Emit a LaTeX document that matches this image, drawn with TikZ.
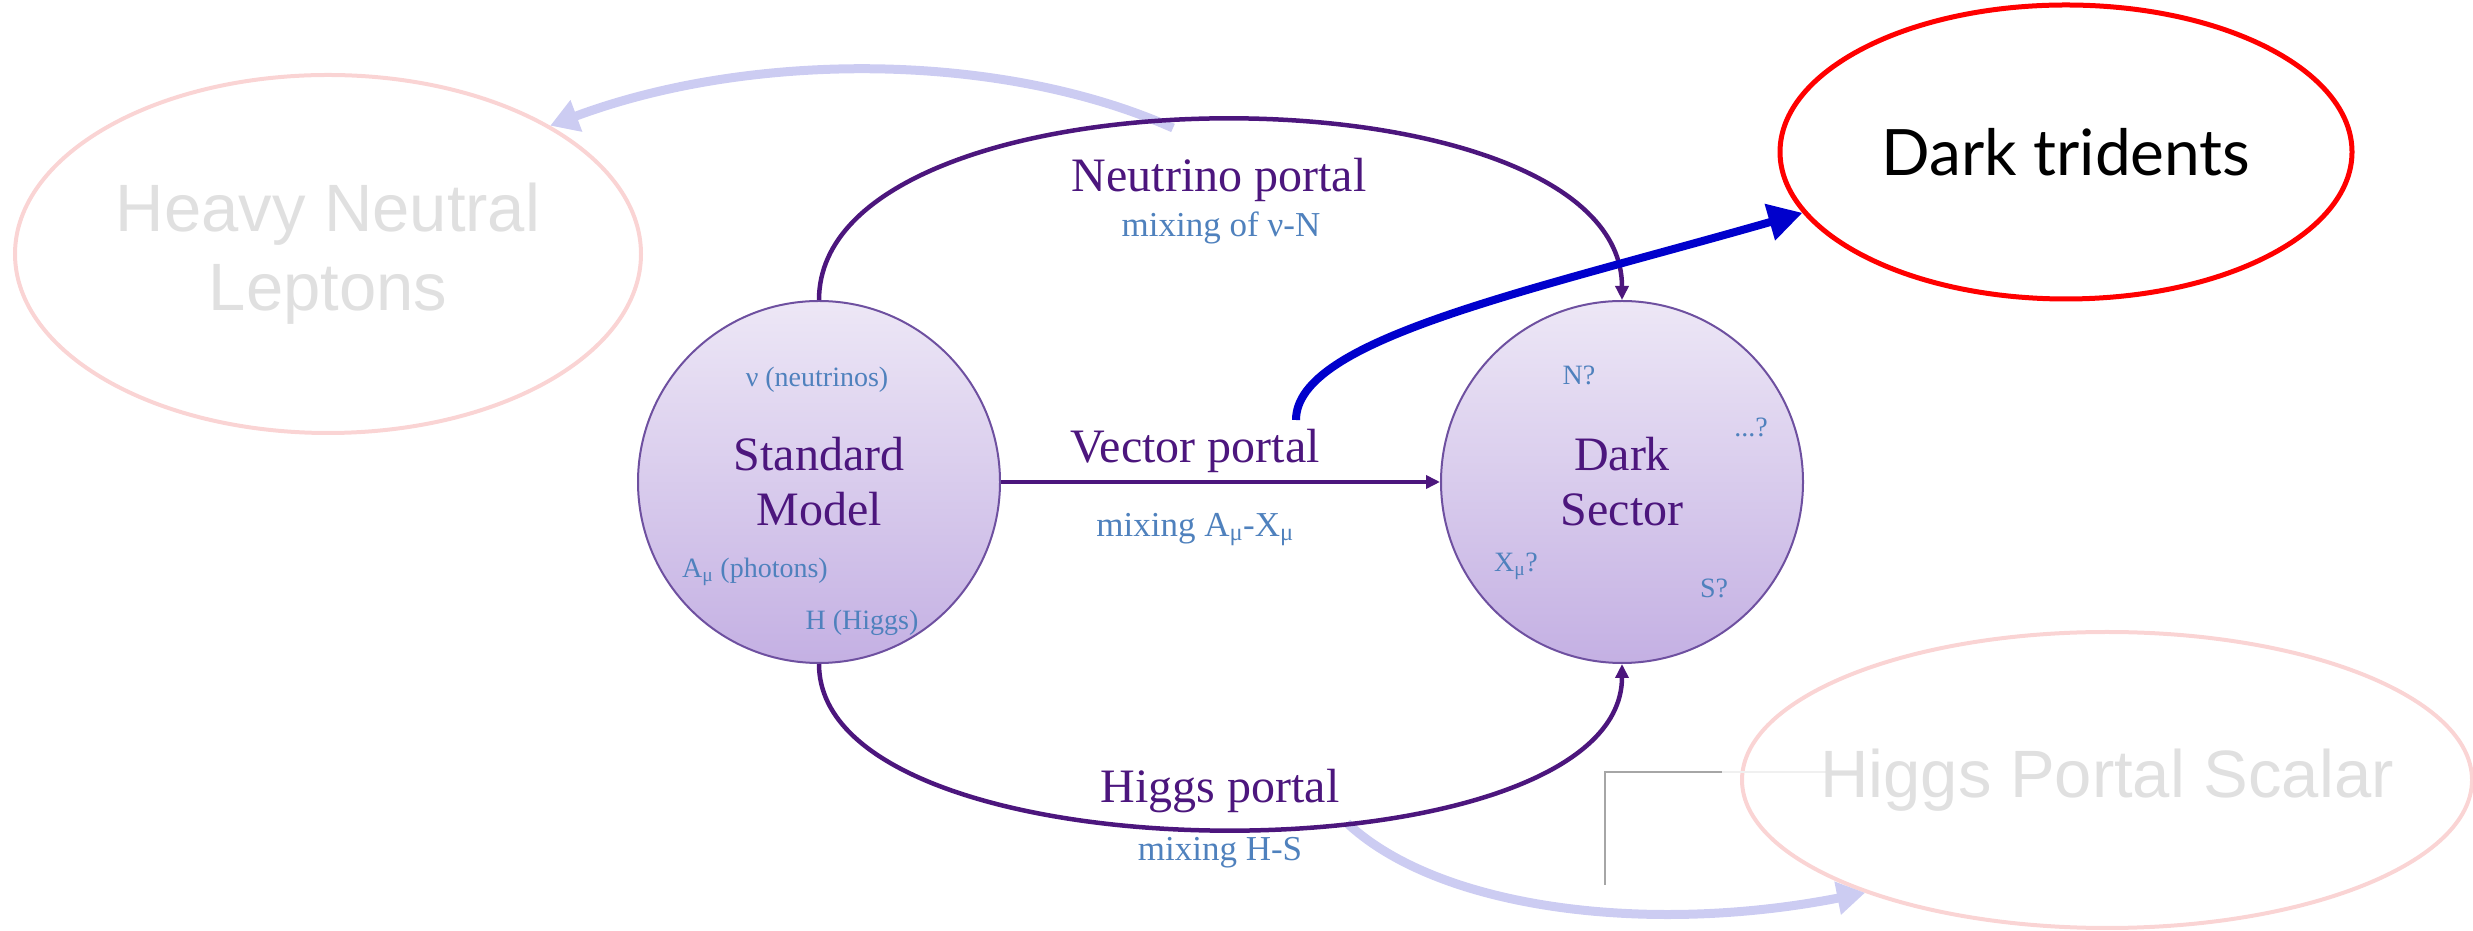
\documentclass[tikz,border=0pt]{standalone}
\usepackage{fontspec}
\setmainfont{Liberation Serif}
\newfontfamily\helv{Liberation Sans}
\newfontfamily\lato{Lato}
\usetikzlibrary{arrows.meta,shapes.geometric}

\definecolor{portalpurple}{RGB}{76,22,125}
\definecolor{labelblue}{RGB}{79,129,189}
\definecolor{fadearrow}{RGB}{204,204,242}
\definecolor{fadepink}{RGB}{250,212,212}
\definecolor{fadegray}{RGB}{224,224,224}
\definecolor{circtop}{RGB}{237,231,246}
\definecolor{circbot}{RGB}{196,176,227}
\definecolor{circline}{RGB}{110,80,160}
\definecolor{triblue}{RGB}{0,0,204}

\begin{document}
\begin{tikzpicture}[x=1pt,y=1pt,
    sector/.style={circle,minimum size=362pt,inner sep=0pt,draw=circline,line width=2pt,
      top color=circtop,bottom color=circbot,text=portalpurple,align=center,
      font=\fontsize{48}{55}\selectfont},
    faded/.style={ellipse,inner sep=0pt,draw=fadepink,line width=4pt},
    fadedtext/.style={text=fadegray,align=center,font=\helv\fontsize{67}{79}\selectfont},
    portal/.style={draw=portalpurple,line width=4.5pt,-{Triangle[length=14pt,width=13pt]}},
    ghost/.style={draw=fadearrow,line width=9pt,-{Triangle[length=28pt,width=32pt]}},
    tri/.style={draw=triblue,line width=8pt,-{Triangle[length=34pt,width=36pt]}},
    portaltext/.style={anchor=base,text=portalpurple,font=\fontsize{48}{55}\selectfont},
    mixtext/.style={anchor=base,text=labelblue,font=\fontsize{35}{40}\selectfont},
    content/.style={anchor=base,text=labelblue,font=\fontsize{28}{32}\selectfont}]
  \useasboundingbox (0,0) rectangle (2473,931);

  % faded candidates
  \node[faded,minimum width=626pt,minimum height=358pt] (hnl) at (328,677) {};
  \node[fadedtext] (hnltext) at (hnl) {Heavy Neutral\\Leptons};
  \node[faded,minimum width=730pt,minimum height=296pt] (hps) at (2107,151) {};
  \draw[gray!70,line width=1.2pt] (1722,159) -- (1605,159) -- (1605,46);
  \draw[gray!12,line width=1.2pt] (1722,159) -- (1829,159);
  \node[fadedtext] (hpstext) at (hps) {Higgs Portal Scalar};

  \coordinate (hnlfrom) at (1173,803);
  \coordinate (hpsfrom) at (1347,108);
  \draw[ghost] (hnlfrom) .. controls (1000,880) and (750,880) .. (hnl.30);
  \draw[ghost] (hpsfrom) .. controls (1440,21) and (1650,-4) .. (hps.205);

  % sectors
  \node[sector] (sm) at (819,449) {Standard\\Model};
  \node[sector] (ds) at (1622,449) {Dark\\Sector};

  \node[content] at (817,544) {ν (neutrinos)};
  \node[content] at (755,353) {A\textsubscript{μ} (photons)};
  \node[content] at (862,301) {H (Higgs)};
  \node[content] at (1579,546) {N?};
  \node[content] at (1751,494) {...?};
  \node[content] at (1516,359) {X\textsubscript{μ}?};
  \node[content] at (1714,333) {S?};

  % portals
  \draw[portal] (sm.north) .. controls +(0,240) and +(0,240) .. (ds.north);
  \draw[portal] (sm.east) -- (ds.west);
  \draw[portal] (sm.south) .. controls +(0,-220) and +(0,-220) .. (ds.south);

  \node[portaltext] (nulabel) at (1219,739) {Neutrino portal};
  \node[mixtext] (numix) at (1221,694) {mixing of ν-N};
  \node[portaltext] (veclabel) at (1195,468) {Vector portal};
  \node[mixtext] (vecmix) at (1195,394) {mixing A\textsubscript{μ}-X\textsubscript{μ}};
  \node[portaltext] (hlabel) at (1220,128) {Higgs portal};
  \node[mixtext] (hmix) at (1220,70) {mixing H-S};

  % dark tridents
  \node[ellipse,draw=red,line width=5pt,inner sep=0pt,minimum width=572pt,minimum height=294pt,
    font=\lato\fontsize{64}{70}\selectfont] (trident) at (2066,779) {Dark tridents};
  \coordinate (trifrom) at (1296,511);
  \draw[tri] (trifrom) .. controls +(0,80) and +(-280,-80) .. (trident.193);
\end{tikzpicture}
\end{document}
